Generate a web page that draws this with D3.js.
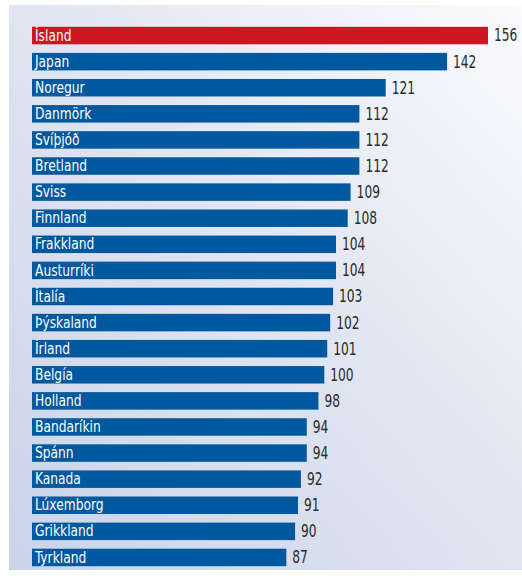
<!DOCTYPE html>
<html>
<head>
<meta charset="utf-8">
<script src="https://cdn.jsdelivr.net/npm/d3@7"></script>
<style>
  body { margin: 0; background: #fff; }
  text { font-family: "Liberation Sans Narrow", "DejaVu Sans Condensed", sans-serif; }
</style>
</head>
<body>
<script>
var width = 522,
    height = 580;

var countries = ["Ísland", "Japan", "Noregur", "Danmörk", "Svíþjóð", "Bretland", "Sviss",
    "Finnland", "Frakkland", "Austurríki", "Ítalía", "Þýskaland", "Írland", "Belgía",
    "Holland", "Bandaríkin", "Spánn", "Kanada", "Lúxemborg", "Grikkland", "Tyrkland"];
var values = [156, 142, 121, 112, 112, 112, 109, 108, 104, 104, 103, 102, 101, 100,
    98, 94, 94, 92, 91, 90, 87];
var highlight = "Ísland";

// narrow the fonts so they look condensed
var nameSqueeze = 0.88,
    valSqueeze = 0.8;

var svg = d3.select("body").append("svg")
    .attr("width", width)
    .attr("height", height);

// background panel with diagonal gradient
var grad = svg.append("defs").append("linearGradient")
    .attr("id", "bg")
    .attr("x1", "0%").attr("y1", "100%")
    .attr("x2", "100%").attr("y2", "0%");
grad.append("stop").attr("offset", "0%").attr("stop-color", "#c9d3e9");
grad.append("stop").attr("offset", "55%").attr("stop-color", "#e2e6f2");
grad.append("stop").attr("offset", "100%").attr("stop-color", "#fbfbfd");

svg.append("rect")
    .attr("x", 9).attr("y", 5)
    .attr("width", width - 9).attr("height", 565)
    .attr("fill", "url(#bg)");

var x = d3.scaleLinear().domain([0, 156]).range([32, 488]);
var y = d3.scaleBand().domain(countries).range([22.5, 570.5]).paddingInner(0.33).paddingOuter(0.165);

var data = countries.map(function (c, i) { return { name: c, value: values[i] }; });

var g = svg.append("g");

g.selectAll("rect.bar")
    .data(data)
    .enter().append("rect")
    .attr("class", "bar")
    .attr("x", x(0))
    .attr("y", function (d) { return y(d.name); })
    .attr("width", function (d) { return x(d.value) - x(0); })
    .attr("height", y.bandwidth())
    .attr("fill", function (d) { return d.name === highlight ? "#cc1721" : "#00589e"; });

g.selectAll("text.name")
    .data(data)
    .enter().append("text")
    .attr("class", "name")
    .attr("transform", function (d) {
        return "translate(" + (x(0) + 3) + "," + (y(d.name) + y.bandwidth() - 3.6) + ") scale(" + nameSqueeze + ",1)";
    })
    .attr("fill", "#fff")
    .attr("font-size", 15.5)
    .text(function (d) { return d.name; });

g.selectAll("text.val")
    .data(data)
    .enter().append("text")
    .attr("class", "val")
    .attr("transform", function (d) {
        return "translate(" + (x(d.value) + 6) + "," + (y(d.name) + y.bandwidth() - 2.8) + ") scale(" + valSqueeze + ",1)";
    })
    .attr("fill", "#2b2b2b")
    .attr("font-size", 17)
    .text(function (d) { return d.value; });
</script>
</body>
</html>
